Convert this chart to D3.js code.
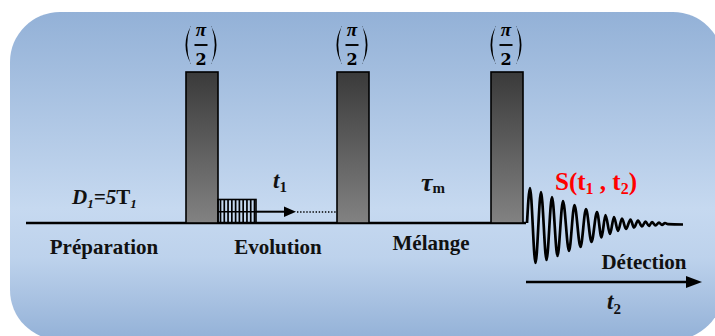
<!DOCTYPE html>
<html><head><meta charset="utf-8">
<script src="https://cdn.jsdelivr.net/npm/d3@7"></script>
<style>body{margin:0;background:#fff}svg{display:block}</style>
</head><body><svg id="c" width="715" height="336"></svg>
<script>
// ---- data (time positions in sequence units, amplitudes in signal units) ----
const pulseStarts = [186, 337, 491];
const pulseWidth = 32;
const pulseAmp = 1;
const pulseFrac = ["π", "2"];
const phaseNames = ["Préparation", "Evolution", "Mélange", "Détection"];
const phaseCenters = [104, 278, 431, 644];
const phaseBaselines = [254, 254, 250, 269];
const hatchStart = 218, hatchEnd = 256, hatchLines = 10;
const fidTopT = [530, 541, 552, 563, 574.5, 586, 597, 605.5, 614, 622, 630.5, 638, 645.5, 652, 659, 665];
const fidTopA = [36.5, 32.5, 27.5, 23.5, 19.5, 15.5, 12.5, 9.5, 7.5, 6, 5, 4, 3, 2.5, 2, 1.5];
const fidBotT = [535.5, 546.5, 557.5, 569, 580.5, 591.5, 601.5, 610, 618, 626, 634, 642, 649, 655.5, 662];
const fidBotA = [-38.5, -35.5, -31.5, -26.5, -22.5, -17.5, -13, -9.5, -6.5, -4.5, -3, -2, -1.5, -1, -0.5];
const fidStart = [527, 1.5], fidEnd = [[668, 0.3], [683, 0]];

const svg = d3.select("#c");
const x = d3.scaleLinear().domain([0, 715]).range([0, 715]);
const yP = d3.scaleLinear().domain([0, 1]).range([223, 72]);
const yF = d3.scaleLinear().domain([-40, 40]).range([264.5, 184.5]);
const serif = "'Liberation Serif','Times New Roman',serif";

const defs = svg.append("defs");
const bg = defs.append("linearGradient").attr("id", "bg").attr("x1", 0).attr("y1", 0).attr("x2", 0).attr("y2", 1);
[[0, "#93b1d7"], [0.6, "#c6d9f0"], [0.75, "#bdd2ec"], [1, "#93b1d7"]].forEach(s => bg.append("stop").attr("offset", s[0]).attr("stop-color", s[1]));
const pg = defs.append("linearGradient").attr("id", "pg").attr("x1", 0).attr("y1", 0).attr("x2", 0).attr("y2", 1);
[[0, "#3a3a3a"], [1, "#828282"]].forEach(s => pg.append("stop").attr("offset", s[0]).attr("stop-color", s[1]));

svg.append("rect").attr("x", 10).attr("y", 12).attr("width", 713).attr("height", 328).attr("rx", 50).attr("ry", 50).attr("fill", "url(#bg)");

// baseline
svg.append("line").attr("x1", x(26)).attr("x2", x(526)).attr("y1", yP(0)).attr("y2", yP(0)).attr("stroke", "#000").attr("stroke-width", 2.6);

// pulses
svg.selectAll("rect.p").data(pulseStarts).join("rect").attr("class", "p")
  .attr("x", d => x(d)).attr("y", yP(pulseAmp)).attr("width", x(pulseWidth) - x(0)).attr("height", yP(0) - yP(pulseAmp))
  .attr("fill", "url(#pg)").attr("stroke", "#000").attr("stroke-width", 1.6);

// pi/2 labels
pulseStarts.forEach(s => {
  const cx = x(s) + (x(pulseWidth) - x(0)) / 2 - 1;
  const g = svg.append("g");
  [-1, 1].forEach(sd => {
    const tip = cx + sd * 10, out = cx + sd * 15.5, inn = cx + sd * 13.6;
    const p = d3.path();
    p.moveTo(tip, 26);
    p.quadraticCurveTo(2 * out - tip, 45, tip, 64);
    p.lineTo(tip + sd * 0.4, 64);
    p.quadraticCurveTo(2 * inn - tip, 45, tip + sd * 0.4, 26);
    p.closePath();
    g.append("path").attr("d", p.toString()).attr("fill", "#000");
  });
  g.append("text").attr("x", cx).attr("y", 36).attr("text-anchor", "middle").attr("font-family", serif).attr("font-weight", "bold").attr("font-style", "italic").attr("font-size", 19).text(pulseFrac[0]);
  g.append("line").attr("x1", cx - 6.5).attr("x2", cx + 6.5).attr("y1", 45).attr("y2", 45).attr("stroke", "#000").attr("stroke-width", 1.9);
  g.append("text").attr("x", cx).attr("y", 64.5).attr("text-anchor", "middle").attr("font-family", "'DejaVu Serif',serif").attr("font-weight", "bold").attr("font-size", 16).text(pulseFrac[1]);
});

// hatched evolution block
const hb = svg.append("g").attr("stroke", "#000");
hb.append("rect").attr("x", x(hatchStart)).attr("y", 199.5).attr("width", x(hatchEnd) - x(hatchStart)).attr("height", 23.5).attr("fill", "none").attr("stroke-width", 1.6);
hb.append("line").attr("x1", x(hatchStart)).attr("x2", x(hatchEnd)).attr("y1", 211.7).attr("y2", 211.7).attr("stroke-width", 1.6);
d3.range(hatchLines).forEach(i => {
  const xx = x(hatchStart) + 2.5 + i * (x(hatchEnd) - x(hatchStart) - 4) / (hatchLines - 1) ;
  hb.append("line").attr("x1", xx).attr("x2", xx).attr("y1", 199.5).attr("y2", 223).attr("stroke-width", 1.7);
});

// t1 arrow + dotted
svg.append("line").attr("x1", x(256)).attr("x2", x(287)).attr("y1", 211.7).attr("y2", 211.7).attr("stroke", "#000").attr("stroke-width", 2);
svg.append("path").attr("d", `M${x(284)},206.5L${x(296)},211.7L${x(284)},217Z`).attr("fill", "#000");
svg.append("line").attr("x1", x(297)).attr("x2", x(336)).attr("y1", 212).attr("y2", 212).attr("stroke", "#000").attr("stroke-width", 1.3).attr("stroke-dasharray", "1.4,1.7");

// FID
const fidPts = [fidStart];
fidTopT.forEach((t, i) => { fidPts.push([t, fidTopA[i]]); if (i < fidBotT.length) fidPts.push([fidBotT[i], fidBotA[i]]); });
fidEnd.forEach(p => fidPts.push(p));
svg.append("path").attr("d", d3.line().x(d => x(d[0])).y(d => yF(d[1])).curve(d3.curveMonotoneX)(fidPts))
  .attr("fill", "none").attr("stroke", "#000").attr("stroke-width", 2.7).attr("stroke-linejoin", "round");

// detection arrow
svg.append("line").attr("x1", x(526)).attr("x2", x(690)).attr("y1", 282).attr("y2", 282).attr("stroke", "#000").attr("stroke-width", 2.4);
svg.append("path").attr("d", `M${x(686)},276L${x(702)},282L${x(686)},288Z`).attr("fill", "#000");

// phase names
svg.selectAll("text.ph").data(phaseNames).join("text").attr("class", "ph")
  .attr("x", (d, i) => x(phaseCenters[i])).attr("y", (d, i) => phaseBaselines[i])
  .attr("text-anchor", "middle").attr("font-family", serif).attr("font-weight", "bold").attr("font-size", 21).attr("fill", "#111").text(d => d);

// D1 = 5T1
const d1 = svg.append("text").attr("x", 72).attr("y", 204).attr("font-family", serif).attr("font-weight", "bold").attr("font-size", 21).attr("fill", "#111");
d1.append("tspan").attr("font-style", "italic").text("D");
d1.append("tspan").attr("font-style", "italic").attr("font-size", 13).attr("dy", 4).text("1");
d1.append("tspan").attr("font-style", "italic").attr("dy", -4).text("=5");
d1.append("tspan").text("T");
d1.append("tspan").attr("font-style", "italic").attr("font-size", 13).attr("dy", 4).text("1");

// t1
const t1 = svg.append("text").attr("x", 273).attr("y", 188).attr("font-family", serif).attr("font-weight", "bold").attr("font-size", 23).attr("fill", "#111");
t1.append("tspan").attr("font-style", "italic").text("t");
t1.append("tspan").attr("font-size", 15).attr("dy", 4).text("1");

// tau_m
const tm = svg.append("text").attr("x", 421).attr("y", 191).attr("font-family", serif).attr("font-weight", "bold").attr("font-size", 26).attr("fill", "#111");
tm.append("tspan").attr("font-style", "italic").text("τ");
tm.append("tspan").attr("font-size", 15).attr("dy", 2).text("m");

// S(t1, t2)
const st = svg.append("text").attr("x", 555).attr("y", 190).attr("font-family", serif).attr("font-weight", "bold").attr("font-size", 25).attr("fill", "#ff0000");
st.append("tspan").text("S(t");
st.append("tspan").attr("font-size", 16).attr("dy", 4).text("1");
st.append("tspan").attr("dy", -4).text(" , t");
st.append("tspan").attr("font-size", 16).attr("dy", 4).text("2");
st.append("tspan").attr("dy", -4).text(")");

// t2
const t2 = svg.append("text").attr("x", 607).attr("y", 309).attr("font-family", serif).attr("font-weight", "bold").attr("font-size", 23).attr("fill", "#111");
t2.append("tspan").attr("font-style", "italic").text("t");
t2.append("tspan").attr("font-size", 15).attr("dy", 5).text("2");
</script></body></html>
